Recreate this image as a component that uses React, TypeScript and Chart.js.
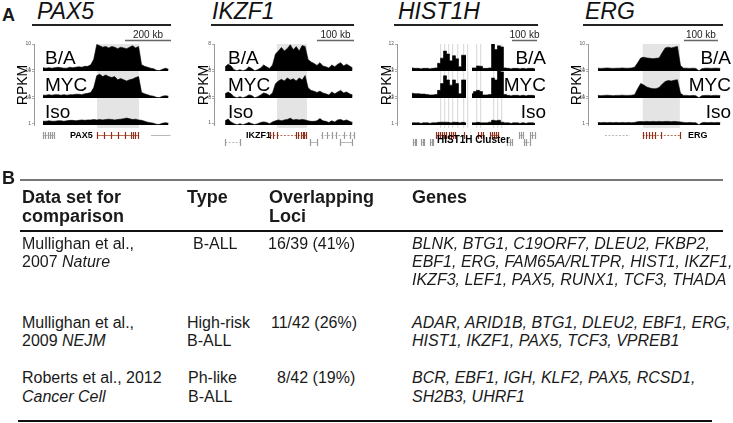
import React, { useEffect, useRef } from "react";
import { Chart, registerables } from "chart.js";

Chart.register(...registerables);

const FONT = '"Liberation Sans", Arial, Helvetica, sans-serif';
const TRACK_NAMES = ["B/A", "MYC", "Iso"];
const TRACK_IDS = ["tBA", "tMYC", "tIso"];
const Y_MIN = 0.85;

// ---------------- PAX5 (bins of 13 kb) ----------------
const PAX5_STEP_KB = 13;
const PAX5_BA = [1.15, 1.1, 1.15, 1.1, 1.15, 1.2, 1.15, 1.1, 1.1, 1.2, 1.15, 1.2, 1.25, 1.2, 1.3, 1.3, 1.5, 2.5, 9.5, 8.5, 7.5, 8.0, 7.0, 8.0, 7.5, 6.5, 7.5, 7.0, 6.5, 7.5, 8.5, 7.0, 8.0, 1.5, 1.3, 1.2, 1.1, 1.05, 0.9, 0.88, 1.0, 1.1, 1.0];
const PAX5_MYC = [1.1, 1.1, 1.15, 1.1, 1.15, 1.15, 1.1, 1.15, 1.1, 1.15, 1.15, 1.2, 1.2, 1.15, 1.25, 1.3, 1.4, 2.2, 6.5, 7.5, 6.0, 7.0, 6.0, 5.5, 6.0, 4.5, 5.0, 4.5, 4.0, 4.5, 4.8, 5.5, 6.0, 1.4, 1.25, 1.15, 1.05, 1.0, 0.9, 0.88, 1.0, 1.05, 1.0];
const PAX5_ISO = [1.2, 1.2, 1.25, 1.2, 1.2, 1.25, 1.25, 1.2, 1.25, 1.3, 1.3, 1.25, 1.3, 1.35, 1.3, 1.35, 1.35, 1.4, 1.35, 1.4, 1.35, 1.4, 1.45, 1.4, 1.35, 1.4, 1.45, 1.5, 1.6, 1.5, 1.4, 1.45, 1.35, 1.3, 1.2, 1.1, 1.05, 1.0, 0.9, 0.9, 1.0, 1.05, 1.0];
const PAX5_TICKS = [1, 10];
const PAX5_HIGHLIGHT = [[235, 418]];
const PAX5_SCALEBAR = [357, 200];
const PAX5_GENES = [
  { start: 0, end: 50, exons: [0, 10, 20, 30, 40, 50], color: "gray", row: 0, dashed: false },
  { start: 235, end: 418, exons: [235, 265, 296, 326, 357, 383, 392, 400, 413], color: "red", row: 0, dashed: false },
  { start: 470, end: 555, exons: [], color: "gray", row: 0, dashed: false },
];

// ---------------- IKZF1 (bins of 8 kb) ----------------
const IKZF1_STEP_KB = 8;
const IKZF1_BA = [1.2, 1.5, 1.3, 0.95, 0.86, 0.95, 0.86, 0.95, 1.2, 1.05, 0.86, 0.95, 1.1, 1.4, 1.2, 1.05, 1.4, 3.5, 4.5, 6.0, 4.5, 5.5, 7.5, 5.0, 6.5, 4.5, 7.0, 6.5, 2.2, 1.8, 1.6, 1.35, 1.7, 1.3, 1.2, 1.1, 1.4, 1.2, 1.5, 1.7, 1.3, 1.5, 1.3, 1.1];
const IKZF1_MYC = [1.2, 1.4, 1.2, 0.95, 0.86, 0.95, 0.86, 0.95, 1.1, 1.05, 0.86, 0.95, 1.1, 1.3, 1.2, 1.05, 1.3, 2.8, 3.5, 4.0, 3.5, 4.5, 3.8, 4.2, 3.5, 4.5, 3.8, 5.5, 2.0, 1.6, 1.5, 1.35, 1.5, 1.3, 1.2, 1.1, 1.4, 1.2, 1.4, 1.6, 1.3, 1.4, 1.2, 1.1];
const IKZF1_ISO = [1.2, 1.4, 1.1, 0.95, 0.86, 0.95, 0.86, 0.95, 1.05, 0.95, 0.88, 0.95, 1.05, 1.1, 1.05, 0.95, 1.1, 1.2, 1.3, 1.2, 1.3, 1.35, 1.5, 1.3, 1.35, 1.3, 1.35, 1.3, 1.2, 1.15, 1.15, 1.2, 1.45, 1.2, 1.15, 1.05, 1.2, 1.1, 1.3, 1.35, 1.2, 1.3, 1.15, 1.05];
const IKZF1_TICKS = [1, 8];
const IKZF1_HIGHLIGHT = [[140, 221]];
const IKZF1_SCALEBAR = [248, 100];
const IKZF1_GENES = [
  { start: 121, end: 221, exons: [121, 130, 140, 192, 198, 204, 209, 214, 219], color: "red", row: 0, dashed: true },
  { start: 259, end: 348, exons: [262, 275, 288, 300, 322, 336, 348], color: "gray", row: 0, dashed: true },
  { start: 0, end: 40, exons: [0, 40], color: "gray", row: 1, dashed: true },
  { start: 230, end: 248, exons: [230, 248], color: "gray", row: 1, dashed: false },
  { start: 310, end: 343, exons: [310, 343], color: "gray", row: 1, dashed: false },
];

// ---------------- HIST1H (bins of 12 kb) ----------------
const HIST_STEP_KB = 12;
const HIST_BA = [1.15, 1.1, 1.1, 1.05, 1.1, 1.1, 1.05, 1.1, 1.15, 1.8, 3.0, 6.0, 4.5, 2.3, 3.8, 2.8, 1.3, 4.0, 4.0, null, 1.15, 1.15, 1.4, 1.35, 1.1, 1.1, 1.15, 12, 7.0, 10, 9.0, 1.15, 1.1, 1.05, 1.1, 1.1, 1.05, 1.1, 1.05, 1.1, 1.1, 1.05];
const HIST_MYC = [1.35, 1.3, 1.3, 1.25, 1.25, 1.2, 1.15, 1.15, 1.2, 1.8, 3.5, 7.5, 5.0, 3.0, 5.0, 3.5, 1.3, 5.0, 5.0, null, 1.3, 1.6, 1.8, 1.6, 1.15, 1.15, 1.2, 6.0, 5.0, 12, 11, 1.2, 1.1, 1.05, 1.1, 1.1, 1.05, 1.1, 1.05, 1.1, 1.1, 1.05];
const HIST_ISO = [1.05, 1.05, 1.05, 1.0, 1.05, 1.05, 1.0, 1.05, 1.05, 1.1, 1.12, 1.12, 1.1, 1.05, 1.12, 1.1, 1.05, 1.1, 1.05, null, 1.05, 1.05, 1.1, 1.05, 1.05, 1.05, 1.12, 1.35, 1.3, 1.35, 1.12, 1.05, 1.05, 1.0, 1.05, 1.05, 1.0, 1.05, 1.0, 1.05, 1.05, 1.0];
const HIST_TICKS = [1, 12];
const HIST_HIGHLIGHT = [[112, 117], [128, 133], [144, 149], [160, 165], [180, 185], [204, 209], [220, 225], [256, 261], [272, 277], [324, 329], [340, 345], [356, 361]];
const HIST_SCALEBAR = [400, 100];
const HIST_GENES = [
  { start: 96, end: 136, exons: [96, 104, 112, 120, 128, 136], color: "red", row: 0, dashed: false },
  { start: 148, end: 176, exons: [148, 156, 164, 172], color: "red", row: 0, dashed: false },
  { start: 196, end: 208, exons: [208], color: "red", row: 0, dashed: false },
  { start: 264, end: 284, exons: [264, 276, 284], color: "red", row: 0, dashed: false },
  { start: 312, end: 348, exons: [312, 320, 328, 336, 344], color: "red", row: 0, dashed: false },
  { start: 428, end: 444, exons: [428, 436, 444], color: "gray", row: 0, dashed: false },
  { start: 472, end: 492, exons: [472, 480, 492], color: "gray", row: 0, dashed: false },
  { start: 4, end: 14, exons: [4, 10, 14], color: "gray", row: 1, dashed: false },
  { start: 36, end: 48, exons: [36, 42, 48], color: "gray", row: 1, dashed: false },
  { start: 72, end: 84, exons: [72, 78, 84], color: "gray", row: 1, dashed: false },
  { start: 380, end: 400, exons: [380, 390, 400], color: "gray", row: 1, dashed: false },
  { start: 448, end: 470, exons: [448, 456, 470], color: "gray", row: 1, dashed: false },
];

// ---------------- ERG (bins of 9 kb) ----------------
const ERG_STEP_KB = 9;
const ERG_BA = [1.1, 1.08, 1.1, 1.12, 1.1, 1.08, 1.1, 1.1, 1.12, 1.1, 1.1, 1.12, 1.2, 1.8, 2.8, 3.0, 2.8, 2.7, 2.6, 2.7, 2.8, 4.5, 7.0, 7.5, 7.0, 7.5, 8.0, 1.4, 1.1, 1.1, 1.08, 1.1, 1.08, 0.87, 1.05, 1.1, 1.1, 1.08, 1.1, 1.1, 1.08];
const ERG_MYC = [1.08, 1.05, 1.08, 1.1, 1.08, 1.05, 1.08, 1.08, 1.1, 1.08, 1.08, 1.1, 1.15, 2.0, 3.2, 2.8, 2.3, 2.1, 2.0, 2.0, 2.2, 3.0, 3.8, 4.2, 4.0, 4.3, 4.5, 1.3, 1.08, 1.08, 1.05, 1.08, 1.05, 0.87, 1.05, 1.08, 1.08, 1.05, 1.08, 1.08, 1.05];
const ERG_ISO = [1.08, 1.05, 1.08, 1.05, 1.08, 1.05, 1.08, 1.05, 1.08, 1.05, 1.08, 1.05, 1.08, 1.15, 1.18, 1.15, 1.18, 1.15, 1.18, 1.15, 1.18, 1.15, 1.18, 1.18, 1.15, 1.18, 1.15, 1.12, 1.08, 1.05, 1.08, 1.05, 1.05, 0.87, 1.05, 1.08, 1.05, 1.08, 1.05, 1.08, 1.05];
const ERG_TICKS = [1, 10];
const ERG_HIGHLIGHT = [[132, 241]];
const ERG_SCALEBAR = [253, 100];
const ERG_GENES = [
  { start: 21, end: 94, exons: [], color: "gray", row: 0, dashed: true },
  { start: 132, end: 241, exons: [132, 141, 150, 159, 168, 185, 241], color: "red", row: 0, dashed: true },
];

// ---------------- Table (panel B) ----------------
const HEADERS = [["Data set for", "comparison"], ["Type"], ["Overlapping", "Loci"], ["Genes"]];
const REF_LINE1 = ["Mullighan et al.,", "Mullighan et al.,", "Roberts et al., 2012"];
const REF_LINE2_PLAIN = ["2007 ", "2009 ", ""];
const REF_LINE2_ITALIC = ["Nature", "NEJM", "Cancer Cell"];
const TYPES = [["B-ALL"], ["High-risk", "B-ALL"], ["Ph-like", "B-ALL"]];
const OVERLAP = ["16/39 (41%)", "11/42 (26%)", "8/42 (19%)"];
const GENES = [
  ["BLNK, BTG1, C19ORF7, DLEU2, FKBP2,", "EBF1, ERG, FAM65A/RLTPR, HIST1, IKZF1,", "IKZF3, LEF1, PAX5, RUNX1, TCF3, THADA"],
  ["ADAR, ARID1B, BTG1, DLEU2, EBF1, ERG,", "HIST1, IKZF1, PAX5, TCF3, VPREB1"],
  ["BCR, EBF1, IGH, KLF2, PAX5, RCSD1,", "SH2B3, UHRF1"],
];

// ---------------- layout (positions / styles) ----------------
const CANVAS_TOP = 28;
const CANVAS_H = 122;
const PAD_TOP = 16;
const PAD_BOTTOM = 25;
const AXIS_W = 14;

type Gene = { start: number; end: number; exons: number[]; color: string; row: number; dashed: boolean };
type PanelCfg = {
  title: string; titleX: number; lineL: number; lineR: number;
  axisX: number; right: number; min: number; max: number; step: number;
  series: (number | null)[][]; ticks: number[]; highlight: number[][];
  genes: Gene[]; scalebar: number[]; scaleText: string; stepped: boolean; stripes: boolean;
  labelSide: "left" | "right"; labelX: number; rpkmX: number;
  geneLabel: string; geneLabelX: number; geneLabelY: number; geneLabelSize: number;
};

const PANELS: PanelCfg[] = [
  { title: "PAX5", titleX: 37, lineL: 32, lineR: 171, axisX: 34, right: 171, min: -39, max: 557, step: PAX5_STEP_KB,
    series: [PAX5_BA, PAX5_MYC, PAX5_ISO], ticks: PAX5_TICKS, highlight: PAX5_HIGHLIGHT, genes: PAX5_GENES,
    scalebar: PAX5_SCALEBAR, scaleText: "200 kb", stepped: false, stripes: false, labelSide: "left", labelX: 45, rpkmX: 22,
    geneLabel: "PAX5", geneLabelX: 70, geneLabelY: 135, geneLabelSize: 9 },
  { title: "IKZF1", titleX: 212, lineL: 211, lineR: 354, axisX: 214, right: 354, min: -30, max: 348, step: IKZF1_STEP_KB,
    series: [IKZF1_BA, IKZF1_MYC, IKZF1_ISO], ticks: IKZF1_TICKS, highlight: IKZF1_HIGHLIGHT, genes: IKZF1_GENES,
    scalebar: IKZF1_SCALEBAR, scaleText: "100 kb", stepped: false, stripes: false, labelSide: "left", labelX: 228, rpkmX: 203,
    geneLabel: "IKZF1", geneLabelX: 246, geneLabelY: 135, geneLabelSize: 9 },
  { title: "HIST1H", titleX: 398, lineL: 394, lineR: 538, axisX: 397, right: 537, min: -60, max: 500, step: HIST_STEP_KB,
    series: [HIST_BA, HIST_MYC, HIST_ISO], ticks: HIST_TICKS, highlight: HIST_HIGHLIGHT, genes: HIST_GENES,
    scalebar: HIST_SCALEBAR, scaleText: "100 kb", stepped: true, stripes: true, labelSide: "right", labelX: 546, rpkmX: 386,
    geneLabel: "HIST1H Cluster", geneLabelX: 437, geneLabelY: 140, geneLabelSize: 10 },
  { title: "ERG", titleX: 585, lineL: 583, lineR: 723, axisX: 588, right: 722, min: -29, max: 365, step: ERG_STEP_KB,
    series: [ERG_BA, ERG_MYC, ERG_ISO], ticks: ERG_TICKS, highlight: ERG_HIGHLIGHT, genes: ERG_GENES,
    scalebar: ERG_SCALEBAR, scaleText: "100 kb", stepped: false, stripes: false, labelSide: "right", labelX: 731, rpkmX: 576,
    geneLabel: "ERG", geneLabelX: 688, geneLabelY: 135, geneLabelSize: 9 },
];

const TRACK_LABEL_Y = [57, 84, 111];

function TrackPanel({ cfg }: { cfg: PanelCfg }) {
  const ref = useRef<HTMLCanvasElement | null>(null);
  const left = cfg.axisX - AXIS_W;
  const width = cfg.right + 4 - left;

  useEffect(() => {
    const canvas = ref.current;
    if (!canvas) return;
    const datasets = cfg.series.map((vals, k) => ({
      label: TRACK_NAMES[k],
      data: vals.map((v, i) => ({ x: i * cfg.step, y: v })),
      yAxisID: TRACK_IDS[k],
      fill: "start",
      backgroundColor: "#000",
      borderColor: "#000",
      borderWidth: 0.6,
      pointRadius: 0,
      tension: 0,
      stepped: cfg.stepped ? "middle" : false,
      spanGaps: false,
    }));
    const yScale = () => ({
      type: "logarithmic",
      min: Y_MIN,
      max: cfg.ticks[cfg.ticks.length - 1],
      stack: "tracks",
      stackWeight: 1,
      position: "left",
      offset: false,
      afterBuildTicks: (s: any) => { s.ticks = cfg.ticks.map((v) => ({ value: v })); },
      afterFit: (s: any) => { s.width = AXIS_W; },
      ticks: { callback: (v: any) => String(v), font: { family: FONT, size: 5 }, color: "#555", padding: 1, autoSkip: false, maxRotation: 0 },
      grid: { drawOnChartArea: false, drawTicks: true, tickLength: 2, color: "#999", lineWidth: 0.8 },
      border: { display: true, color: "#999", width: 1 },
    });
    const decor = {
      id: "decor",
      beforeDatasetsDraw(chart: any) {
        const { ctx, chartArea } = chart;
        const xs = chart.scales.x;
        ctx.save();
        ctx.fillStyle = cfg.stripes ? "#dedede" : "#e4e4e4";
        for (const [a, b] of cfg.highlight) {
          const x1 = xs.getPixelForValue(a);
          const x2 = xs.getPixelForValue(b);
          ctx.fillRect(x1, chartArea.top, x2 - x1, chartArea.bottom + 3 - chartArea.top);
        }
        ctx.restore();
      },
      afterDraw(chart: any) {
        const { ctx, chartArea } = chart;
        const xs = chart.scales.x;
        ctx.save();
        ctx.strokeStyle = "#666";
        ctx.lineWidth = 1.5;
        ctx.beginPath();
        const sy = chartArea.top - 3.5;
        ctx.moveTo(xs.getPixelForValue(cfg.scalebar[0]), sy);
        ctx.lineTo(xs.getPixelForValue(cfg.scalebar[0] + cfg.scalebar[1]), sy);
        ctx.stroke();
        for (const g of cfg.genes) {
          const gy = chartArea.bottom + 10.5 + g.row * 7;
          const col = g.color === "red" ? "#a34a2e" : "#a8a8a8";
          ctx.strokeStyle = col;
          ctx.lineWidth = 0.8;
          ctx.setLineDash(g.dashed ? [2, 1.5] : []);
          ctx.beginPath();
          ctx.moveTo(xs.getPixelForValue(g.start), gy);
          ctx.lineTo(xs.getPixelForValue(g.end), gy);
          ctx.stroke();
          ctx.setLineDash([]);
          ctx.lineWidth = 1.2;
          ctx.strokeStyle = g.color === "red" ? "#8e2f1c" : "#999";
          for (const e of g.exons) {
            const ex = Math.round(xs.getPixelForValue(e)) + 0.5;
            ctx.beginPath();
            ctx.moveTo(ex, gy - 3.5);
            ctx.lineTo(ex, gy + 3.5);
            ctx.stroke();
          }
        }
        ctx.restore();
      },
    };
    // stacked scales: the first defined scale ends up at the bottom
    const chart = new Chart(canvas, {
      type: "line",
      data: { datasets } as any,
      options: {
        animation: false,
        responsive: false,
        maintainAspectRatio: false,
        events: [],
        layout: { padding: { top: PAD_TOP, bottom: PAD_BOTTOM, left: 0, right: 4 } },
        plugins: { legend: { display: false }, tooltip: { enabled: false } },
        scales: {
          x: { type: "linear", min: cfg.min, max: cfg.max, display: false },
          tIso: yScale(),
          tMYC: yScale(),
          tBA: yScale(),
        } as any,
      } as any,
      plugins: [decor],
    });
    return () => chart.destroy();
  }, []);

  const lblStyle = (y: number): React.CSSProperties => ({
    position: "absolute",
    top: y - 9.5,
    fontSize: 19,
    lineHeight: "19px",
    fontFamily: FONT,
    color: "#000",
    whiteSpace: "nowrap",
    ...(cfg.labelSide === "left" ? { left: cfg.labelX } : { right: 733 - cfg.labelX }),
  });

  return (
    <>
      <div style={{ position: "absolute", left: cfg.titleX, top: 0, fontSize: 23, lineHeight: "23px", fontStyle: "italic", fontFamily: FONT, color: "#111" }}>{cfg.title}</div>
      <div style={{ position: "absolute", left: cfg.lineL, top: 24, width: cfg.lineR - cfg.lineL, height: 2, background: "#222" }} />
      <canvas ref={ref} width={width} height={CANVAS_H} style={{ position: "absolute", left, top: CANVAS_TOP, width, height: CANVAS_H }} />
      <div style={{ position: "absolute", left: cfg.rpkmX - 30, top: 85 - 8, width: 60, textAlign: "center", fontSize: 14, lineHeight: "16px", fontFamily: FONT, transform: "rotate(-90deg)" }}>RPKM</div>
      {TRACK_NAMES.map((n, k) => (
        <div key={n} style={lblStyle(TRACK_LABEL_Y[k])}>{n}</div>
      ))}
      <div style={{ position: "absolute", left: cfg.geneLabelX, top: cfg.geneLabelY - cfg.geneLabelSize / 2, fontSize: cfg.geneLabelSize, lineHeight: cfg.geneLabelSize + "px", fontWeight: "bold", fontFamily: FONT, whiteSpace: "nowrap" }}>{cfg.geneLabel}</div>
    </>
  );
}

function ScaleText({ cfg }: { cfg: PanelCfg }) {
  const kbPerPx = (cfg.max - cfg.min) / (cfg.right - cfg.axisX);
  const cx = cfg.axisX + (cfg.scalebar[0] + cfg.scalebar[1] / 2 - cfg.min) / kbPerPx;
  return (
    <div style={{ position: "absolute", left: cx - 30, width: 60, top: 30, textAlign: "center", fontSize: 10, lineHeight: "10px", fontFamily: FONT, color: "#222" }}>{cfg.scaleText}</div>
  );
}

function T(props: { x: number; y: number; size: number; bold?: boolean; children: React.ReactNode }) {
  return (
    <div style={{ position: "absolute", left: props.x, top: props.y - props.size * 0.49, fontSize: props.size, lineHeight: 1, fontWeight: props.bold ? "bold" : "normal", fontFamily: FONT, color: "#1a1a1a", whiteSpace: "nowrap" }}>
      {props.children}
    </div>
  );
}

const COL_X = [22, 187, 269, 412];
const HEADER_Y = [197, 216];
const ROW_Y = [[244, 262, 280], [323, 341], [378, 397]];
const TYPE_X = [193, 187, 188];
const OVERLAP_X = [268, 271, 277];

export default function App() {
  return (
    <div style={{ position: "absolute", left: 0, top: 0, width: 733, height: 423, background: "#fff", overflow: "hidden" }}>
      <T x={2} y={15} size={18} bold>A</T>
      {PANELS.map((p) => (
        <React.Fragment key={p.title}>
          <TrackPanel cfg={p} />
          <ScaleText cfg={p} />
        </React.Fragment>
      ))}

      <T x={2} y={178} size={18} bold>B</T>
      <div style={{ position: "absolute", left: 20, top: 179, width: 703, height: 1.5, background: "#777" }} />
      {HEADERS.map((h, c) => h.map((line, l) => (
        <T key={c + "-" + l} x={COL_X[c]} y={HEADER_Y[l]} size={18} bold>{line}</T>
      )))}
      <div style={{ position: "absolute", left: 20, top: 230, width: 703, height: 1.5, background: "#111" }} />
      {REF_LINE1.map((r, i) => (
        <React.Fragment key={"r" + i}>
          <T x={COL_X[0]} y={ROW_Y[i][0]} size={16}>{r}</T>
          <T x={COL_X[0]} y={ROW_Y[i][1]} size={16}>{REF_LINE2_PLAIN[i]}<i>{REF_LINE2_ITALIC[i]}</i></T>
          {TYPES[i].map((t, l) => (
            <T key={"t" + l} x={TYPE_X[i]} y={ROW_Y[i][l]} size={16}>{t}</T>
          ))}
          <T x={OVERLAP_X[i]} y={ROW_Y[i][0]} size={16}>{OVERLAP[i]}</T>
          {GENES[i].map((g, l) => (
            <T key={"g" + l} x={COL_X[3]} y={ROW_Y[i][l]} size={16}><i>{g}</i></T>
          ))}
        </React.Fragment>
      ))}
      <div style={{ position: "absolute", left: 18, top: 420, width: 694, height: 2, background: "#111" }} />
    </div>
  );
}
